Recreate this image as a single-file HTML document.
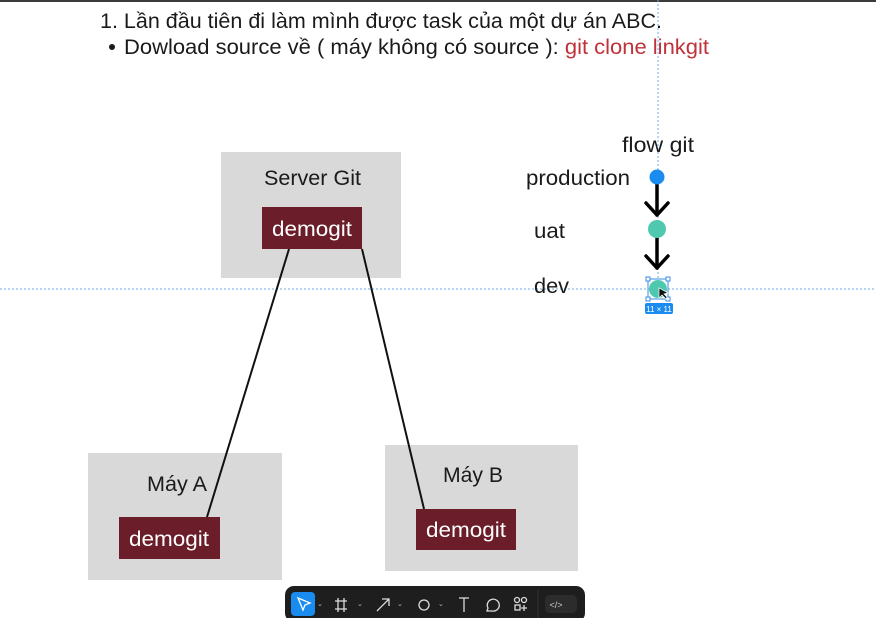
<!DOCTYPE html>
<html><head><meta charset="utf-8"><style>
body{margin:0;width:876px;height:618px;overflow:hidden;background:#fff;font-family:"Liberation Sans","DejaVu Sans",sans-serif;}
svg{display:block}
</style></head><body>
<svg width="876" height="618" viewBox="0 0 876 618" xmlns="http://www.w3.org/2000/svg" font-family="Liberation Sans, DejaVu Sans, sans-serif">
<rect x="0" y="0" width="876" height="2" fill="#3a3a3a"/>
<text x="100" y="28" font-size="21" fill="#1a1a1a" textLength="562" lengthAdjust="spacingAndGlyphs">1. Lần đầu tiên đi làm mình được task của một dự án ABC.</text>
<circle cx="112" cy="47" r="3" fill="#1a1a1a"/>
<text x="124" y="54" font-size="21" fill="#1a1a1a" textLength="585" lengthAdjust="spacingAndGlyphs">Dowload source về ( máy không có source ): <tspan fill="#c0313a">git clone linkgit</tspan></text>
<line x1="658" y1="0" x2="658" y2="280" stroke="#6aaee8" stroke-width="1" stroke-dasharray="2,2"/>
<line x1="0" y1="289" x2="876" y2="289" stroke="#6aaee8" stroke-width="1" stroke-dasharray="2,2"/>
<rect x="221" y="152" width="180" height="126" fill="#d9d9d9"/>
<text x="264" y="185" font-size="21" fill="#1a1a1a" textLength="97" lengthAdjust="spacingAndGlyphs">Server Git</text>
<rect x="262" y="207" width="100" height="42" fill="#6b1e29"/>
<text x="272" y="236" font-size="21" fill="#fff" textLength="80" lengthAdjust="spacingAndGlyphs">demogit</text>
<rect x="88" y="453" width="194" height="127" fill="#d9d9d9"/>
<text x="147" y="491" font-size="21" fill="#1a1a1a" textLength="60" lengthAdjust="spacingAndGlyphs">Máy A</text>
<rect x="119" y="517" width="101" height="42" fill="#6b1e29"/>
<text x="129" y="546" font-size="21" fill="#fff" textLength="80" lengthAdjust="spacingAndGlyphs">demogit</text>
<rect x="385" y="445" width="193" height="126" fill="#d9d9d9"/>
<text x="443" y="482" font-size="21" fill="#1a1a1a" textLength="60" lengthAdjust="spacingAndGlyphs">Máy B</text>
<rect x="416" y="509" width="100" height="41" fill="#6b1e29"/>
<text x="426" y="537" font-size="21" fill="#fff" textLength="80" lengthAdjust="spacingAndGlyphs">demogit</text>
<line x1="289" y1="249" x2="207" y2="517" stroke="#111" stroke-width="2"/>
<line x1="362" y1="249" x2="424" y2="509" stroke="#111" stroke-width="2"/>
<text x="622" y="152" font-size="21" fill="#1a1a1a" textLength="72" lengthAdjust="spacingAndGlyphs">flow git</text>
<text x="526" y="185" font-size="21" fill="#1a1a1a" textLength="104" lengthAdjust="spacingAndGlyphs">production</text>
<text x="534" y="238" font-size="21" fill="#1a1a1a" textLength="31" lengthAdjust="spacingAndGlyphs">uat</text>
<text x="534" y="293" font-size="21" fill="#1a1a1a" textLength="35" lengthAdjust="spacingAndGlyphs">dev</text>
<g stroke="#000" stroke-width="3.5" fill="none" stroke-linecap="round" stroke-linejoin="round">
<line x1="657" y1="184" x2="657" y2="215"/><polyline points="646,203 657,215 668,203"/>
<line x1="657" y1="237" x2="657" y2="268"/><polyline points="646,256 657,268 668,256"/>
</g>
<circle cx="657" cy="177" r="7.5" fill="#1a8cf0"/>
<circle cx="657" cy="229" r="9" fill="#4ec9b0"/>
<circle cx="658" cy="289" r="9" fill="#4ec9b0"/>
<rect x="648" y="279" width="20" height="20" fill="none" stroke="#3a8ee6" stroke-width="1"/>
<g fill="#fff" stroke="#3a8ee6" stroke-width="1">
<rect x="646" y="277" width="4" height="4"/><rect x="666" y="277" width="4" height="4"/>
<rect x="646" y="297" width="4" height="4"/><rect x="666" y="297" width="4" height="4"/>
</g>
<path d="M659,288 L659,298 L662,295 L666,299 L667,297 L664,294 L668,293 Z" fill="#111" stroke="#fff" stroke-width="0.7"/>
<rect x="645" y="303" width="28" height="11" rx="2" fill="#1a8cf0"/>
<text x="659" y="312" font-size="8" text-anchor="middle" fill="#fff">11 × 11</text>
<rect x="285" y="586" width="300" height="36" rx="9" fill="#1e1e1e"/>
<rect x="291" y="592" width="24" height="24" rx="4" fill="#1a8cf0"/>
<path d="M298,598 L310,603 L305,605 L303,610 Z" fill="none" stroke="#fff" stroke-width="1.3"/>
<g fill="none" stroke="#ddd" stroke-width="1.3">
<path d="M338,598 v14 M344,598 v14 M335,601 h12 M335,609 h12"/>
<path d="M377,611 L389,599 M382,599 h7 v7"/>
<circle cx="424" cy="605" r="5"/>
<path d="M459,598 h10 M464,598 v14"/>
<path d="M492,611 l-5,0 l1,-3 a6,6 0 1 1 4,3z"/>
<circle cx="517" cy="600" r="2.5"/><circle cx="524" cy="600" r="2.5"/><rect x="515" y="605" width="5" height="5"/><path d="M524,605 v6 M521,608 h6"/>
</g>
<g fill="#bbb" font-size="7"><text x="317" y="606">⌄</text><text x="357" y="606">⌄</text><text x="397" y="606">⌄</text><text x="438" y="606">⌄</text></g>
<line x1="538" y1="590" x2="538" y2="618" stroke="#333"/>
<rect x="545" y="595" width="32" height="18" rx="5" fill="#2c2c2c"/>
<text x="556" y="608" font-size="9" fill="#ccc" text-anchor="middle">&lt;/&gt;</text>
</svg>
</body></html>
